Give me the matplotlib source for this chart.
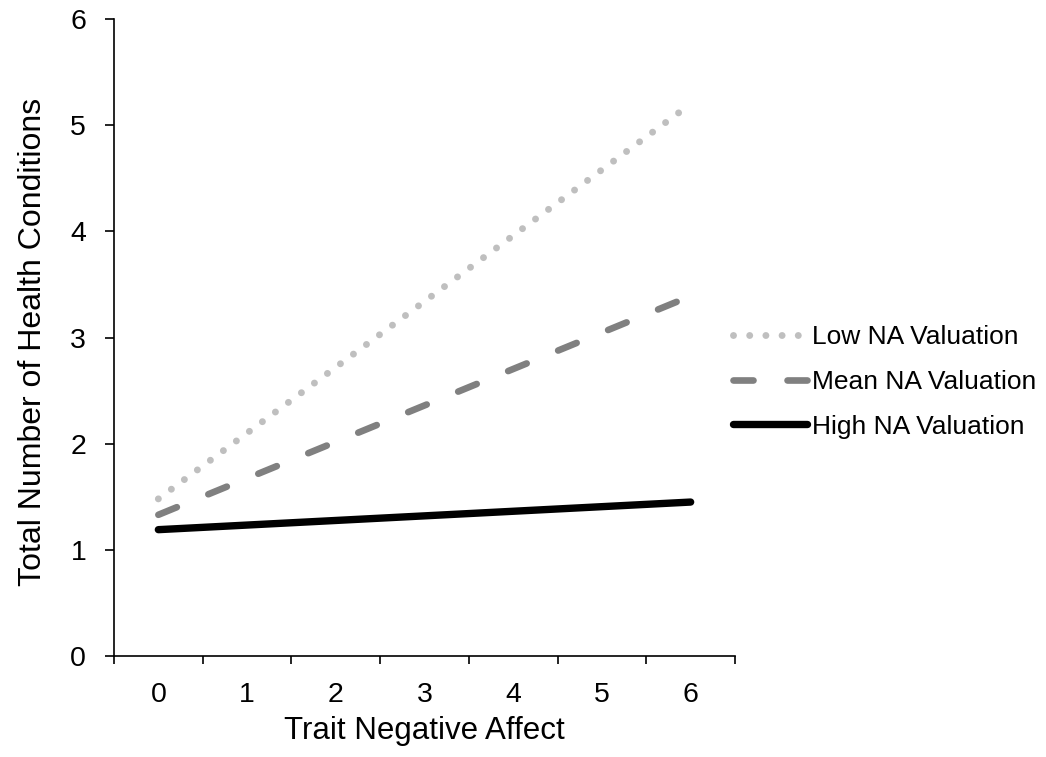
import matplotlib
matplotlib.use("Agg")
import matplotlib.pyplot as plt
from matplotlib.ticker import FixedLocator, NullFormatter, FixedFormatter

plt.rcParams['font.family'] = ['Liberation Sans', 'DejaVu Sans']
plt.rcParams['lines.scale_dashes'] = False

# Data (endpoints of simple-slope lines)
x_vals = [0, 6]
series_names = ["Low NA Valuation", "Mean NA Valuation", "High NA Valuation"]
low_na = [1.48, 5.20]
mean_na = [1.33, 3.39]
high_na = [1.19, 1.45]
x_ticklabels = ["0", "1", "2", "3", "4", "5", "6"]
y_ticks = [0, 1, 2, 3, 4, 5, 6]

fig = plt.figure(figsize=(10.46, 7.57), dpi=100)
ax = fig.add_axes([114/1046, 1-656/757, (735-114)/1046, (656-19)/757])

ax.plot(x_vals, low_na, color="#BFBFBF", lw=5.0, linestyle=(0, (0.01, 11.65)),
        dash_capstyle="round", solid_capstyle="round", label=series_names[0])
ax.plot(x_vals, mean_na, color="#808080", lw=4.8, linestyle=(0, (14.4, 24.5)),
        dash_capstyle="round", solid_capstyle="round", label=series_names[1])
ax.plot(x_vals, high_na, color="#000000", lw=5.3, linestyle="-",
        solid_capstyle="round", label=series_names[2])

ax.set_xlim(-0.5, 6.5)
ax.set_ylim(0, 6)

for s in ["top", "right"]:
    ax.spines[s].set_visible(False)
for s in ["left", "bottom"]:
    ax.spines[s].set_linewidth(1.2)
    ax.spines[s].set_color("black")

ax.set_yticks(y_ticks)
ax.set_yticklabels([str(v) for v in y_ticks])
ax.tick_params(axis="y", which="major", direction="out", length=6.5, width=1.2,
               pad=13.5, labelsize=20.5)

ax.xaxis.set_major_locator(FixedLocator([i - 0.5 for i in range(8)]))
ax.xaxis.set_major_formatter(NullFormatter())
ax.xaxis.set_minor_locator(FixedLocator(list(range(7))))
ax.xaxis.set_minor_formatter(FixedFormatter(x_ticklabels))
ax.tick_params(axis="x", which="major", direction="out", length=6, width=1.2)
ax.tick_params(axis="x", which="minor", length=0, pad=19, labelsize=20.5)

ax.set_xlabel("Trait Negative Affect", fontsize=22.5)
ax.xaxis.label.set_va("center")
ax.xaxis.set_label_coords(0.5, (656-731)/637)
ax.set_ylabel("Total Number of Health Conditions", fontsize=23)
ax.yaxis.label.set_va("center")
ax.yaxis.set_label_coords((33-114)/621, 0.493)

leg = fig.legend(loc="center left", bbox_to_anchor=(733/1046, 1-382/757),
                 frameon=False, fontsize=19, handlelength=2.8, handletextpad=0.2,
                 labelspacing=0.78, borderpad=0, borderaxespad=0)

fig.savefig("out.png", dpi=100)
